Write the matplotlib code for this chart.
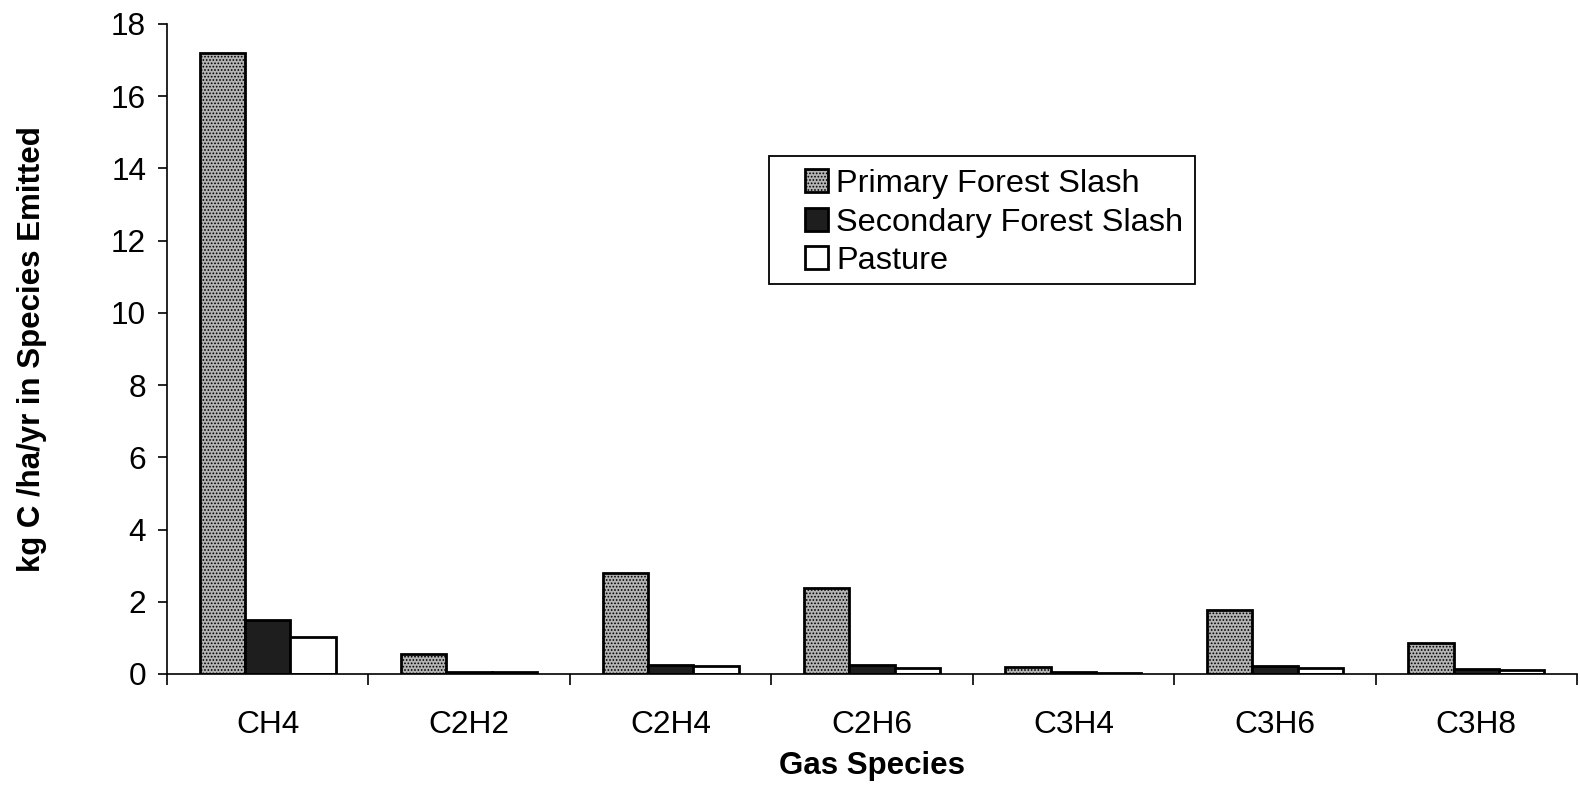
import numpy as np
import matplotlib.pyplot as plt
from matplotlib.patches import Rectangle

plt.rcParams['font.family'] = ['Liberation Sans', 'DejaVu Sans']
plt.rcParams['hatch.color'] = '#6e6e6e'
plt.rcParams['hatch.linewidth'] = 0.8

# Carbon emitted per gas species for each land type
species = ['CH4', 'C2H2', 'C2H4', 'C2H6', 'C3H4', 'C3H6', 'C3H8']
primary = [17.2, 0.55, 2.80, 2.37, 0.18, 1.78, 0.87]
secondary = [1.49, 0.05, 0.26, 0.24, 0.05, 0.21, 0.14]
pasture = [1.03, 0.05, 0.23, 0.17, 0.04, 0.17, 0.10]
series_names = ['Primary Forest Slash', 'Secondary Forest Slash', 'Pasture']

fig = plt.figure(figsize=(15.8, 7.88), dpi=100)
ax = fig.add_axes([0.1057, 0.1447, 0.8924, 0.8249])

x = np.arange(len(species))
w = 0.225
ax.bar(x - w, primary, w, color='#b4b4b4', edgecolor='black', linewidth=2,
       hatch='.....', label=series_names[0])
ax.bar(x, secondary, w, color='#1e1e1e', edgecolor='black', linewidth=2,
       label=series_names[1])
ax.bar(x + w, pasture, w, color='white', edgecolor='black', linewidth=2,
       label=series_names[2])

ax.set_xlim(-0.5, len(species) - 0.5)
ax.set_ylim(0, 18)
ax.set_yticks(np.arange(0, 19, 2))
ax.set_xticks(x)
ax.set_xticklabels(species)
ax.set_xticks(np.arange(-0.5, len(species), 1.0), minor=True)
ax.tick_params(axis='x', which='major', length=0, pad=26, labelsize=22.8)
ax.tick_params(axis='x', which='minor', length=8, width=1.2, direction='out')
ax.tick_params(axis='y', length=6.5, width=1.2, direction='out', labelsize=22.8,
               pad=8.5)

for side in ['top', 'right']:
    ax.spines[side].set_visible(False)
ax.spines['left'].set_linewidth(1.2)
ax.spines['bottom'].set_linewidth(1.2)

ax.set_xlabel('Gas Species', fontsize=22.5, fontweight='bold', labelpad=8)
ax.set_ylabel('kg C /ha/yr in Species Emitted', fontsize=22.5, fontweight='bold')
ax.yaxis.set_label_coords(-0.085, 0.5)

# legend entries without frame, box drawn separately
leg = ax.legend(loc='upper left', bbox_to_anchor=(0.5095, 0.7854),
                bbox_transform=fig.transFigure, fontsize=23.4, frameon=False,
                handlelength=0.7, handleheight=0.7, handletextpad=0.25,
                borderpad=0, labelspacing=0.26, borderaxespad=0)
fig.patches.append(Rectangle((769 / 1580, 1 - 284 / 788), 426 / 1580, 128 / 788,
                             transform=fig.transFigure, fill=False,
                             edgecolor='black', linewidth=1.3))

fig.savefig('out.png', dpi=100)
